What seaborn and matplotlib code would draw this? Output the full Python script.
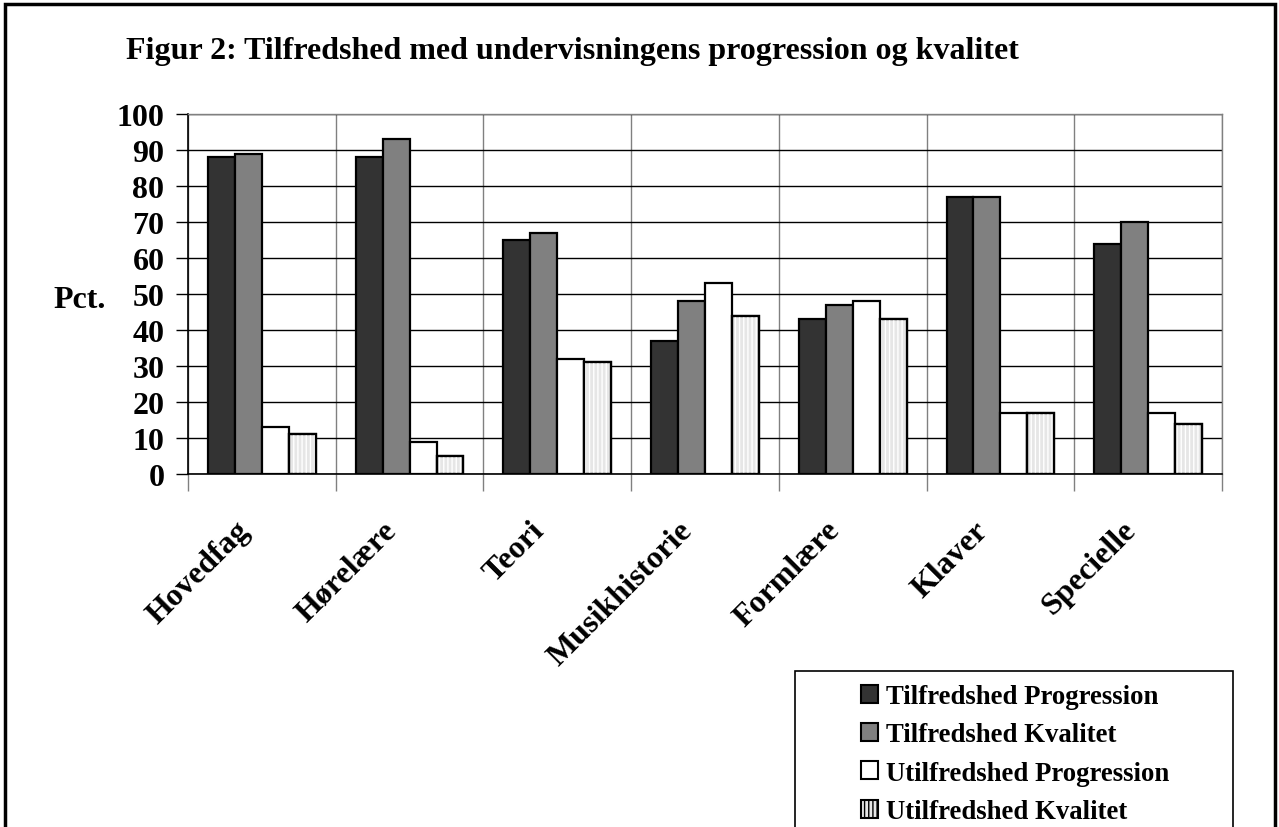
import matplotlib
matplotlib.use("Agg")
import matplotlib.pyplot as plt
from matplotlib.patches import Rectangle
from matplotlib.transforms import ScaledTranslation
import seaborn as sns
import pandas as pd

categories = ["Hovedfag", "Hørelære", "Teori", "Musikhistorie", "Formlære", "Klaver", "Specielle"]
series_names = ["Tilfredshed Progression", "Tilfredshed Kvalitet",
                "Utilfredshed Progression", "Utilfredshed Kvalitet"]
tilf_prog = [88, 88, 65, 37, 43, 77, 64]
tilf_kval = [89, 93, 67, 48, 47, 77, 70]
utilf_prog = [13, 9, 32, 53, 48, 17, 17]
utilf_kval = [11, 5, 31, 44, 43, 17, 14]
y_ticks = [0, 10, 20, 30, 40, 50, 60, 70, 80, 90, 100]

rows = []
for name, vals in zip(series_names, [tilf_prog, tilf_kval, utilf_prog, utilf_kval]):
    for c, v in zip(categories, vals):
        rows.append({"cat": c, "series": name, "val": v})
df = pd.DataFrame(rows)

sns.set_theme(style="white")
plt.rcParams["font.family"] = ["Liberation Serif", "DejaVu Serif"]
plt.rcParams["font.weight"] = "bold"
for k in ["text.color", "axes.labelcolor", "xtick.color", "ytick.color"]:
    plt.rcParams[k] = "black"

fig = plt.figure(figsize=(12.79, 8.28), dpi=100)
ax = fig.add_axes([188/1279, 1-475/828, (1222-188)/1279, (475-115)/828])

palette = ["#333333", "#808080", "#ffffff", "#e6e6e6"]
sns.barplot(data=df, x="cat", y="val", hue="series", order=categories,
            hue_order=series_names, palette=palette, width=0.73, gap=0,
            edgecolor="black", linewidth=1.6, saturation=1, legend=False, ax=ax, zorder=3)

# hatch for 4th series
n = len(categories)
bars = [p for p in ax.patches if isinstance(p, Rectangle)]
hatch_bars = bars[3*n:4*n]
for p in hatch_bars:
    r = Rectangle(p.get_xy(), p.get_width(), p.get_height(), facecolor="none",
                  edgecolor="#ffffff", hatch="||||", linewidth=0, zorder=3.5)
    ax.add_patch(r)
    outline = Rectangle(p.get_xy(), p.get_width(), p.get_height(), facecolor="none",
                        edgecolor="black", linewidth=1.6, zorder=4)
    ax.add_patch(outline)

ax.set_ylim(0, 100)
ax.set_xlim(-0.5, n - 0.5)
ax.set_yticks(y_ticks)
ax.set_yticklabels([str(t) for t in y_ticks], fontsize=23, fontweight="bold")
ax.yaxis.grid(True, color="black", linewidth=1.0, zorder=0)
ax.set_xticks(range(n))
ax.set_xticks([i + 0.5 for i in range(-1, n)], minor=True)
ax.xaxis.grid(True, which="minor", color="#808080", linewidth=1.0, zorder=0)
ax.xaxis.grid(False, which="major")
ax.set_xticklabels(categories, rotation=45, ha="right", rotation_mode="anchor",
                   fontsize=23, fontweight="bold")
ax.tick_params(axis="x", which="major", length=0, pad=14)
ax.tick_params(axis="x", which="minor", length=12, width=1, color="#808080", direction="out", bottom=True)
ax.tick_params(axis="y", length=9, width=1, color="black", direction="out", left=True, pad=8)
off = ScaledTranslation(-27/100, -22/100, fig.dpi_scale_trans)
for lab in ax.get_xticklabels():
    lab.set_transform(lab.get_transform() + off)
ax.set_xlabel("")
ax.set_ylabel("")
for s in ["top", "right"]:
    ax.spines[s].set_color("#808080")
    ax.spines[s].set_linewidth(1)
ax.spines["left"].set_color("black")
ax.spines["bottom"].set_color("black")
ax.spines["left"].set_linewidth(1.2)
ax.spines["bottom"].set_linewidth(1.2)

fig.text(126/1279, 1-52/828, "Figur 2: Tilfredshed med undervisningens progression og kvalitet",
         fontsize=23, fontweight="bold", va="center", ha="left")
fig.text(53/1279, 1-300/828, "Pct.", fontsize=23, fontweight="bold", va="center", ha="left")

# legend
handles = [Rectangle((0, 0), 1, 1, facecolor=palette[i], edgecolor="black", linewidth=1.5,
                     hatch=("||||" if i == 3 else None)) for i in range(4)]
leg = fig.legend(handles, series_names, loc="upper left",
                 bbox_to_anchor=(861/1279, 1-685/828), frameon=False,
                 prop={"family": "Liberation Serif", "weight": "bold", "size": 19.3},
                 handlelength=0.65, handleheight=0.65, handletextpad=0.3, labelspacing=0.5,
                 borderaxespad=0, borderpad=0)
fig.patches.append(Rectangle((795/1279, -0.05), (1233-795)/1279, 0.05 + 1-672/828,
                             transform=fig.transFigure, facecolor="none", edgecolor="black",
                             linewidth=1.2))
# outer border
fig.patches.append(Rectangle((5/1279, -0.05), (1275-5)/1279, 0.05 + 1-5/828,
                             transform=fig.transFigure, facecolor="none", edgecolor="black",
                             linewidth=2.5))

fig.savefig("out.png", dpi=100)
